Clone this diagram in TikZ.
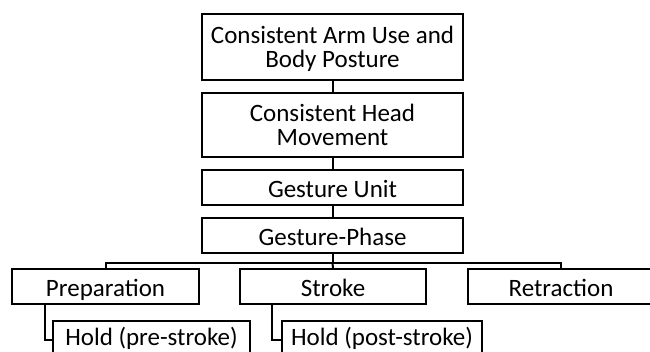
\documentclass[tikz,border=0pt]{standalone}
\usepackage{fontspec}
\setmainfont{Carlito}
\newcommand{\nodepth}[1]{\raisebox{0pt}[\height][0pt]{#1}}
\begin{document}
\begin{tikzpicture}[x=1pt,y=-1pt,
  box/.style={draw,line width=2pt,inner sep=0pt,align=center,
    font=\fontsize{25}{24}\selectfont,minimum height=35pt},
  onebox/.style={box,text height=19pt,text depth=0pt},
  holdbox/.style={box,text height=15pt,text depth=5pt,minimum height=38pt},
  ln/.style={line width=2pt}]
\useasboundingbox (0,0) rectangle (650,351);
\node[box,minimum width=261pt,minimum height=66pt] (arm) at (332.5,47) {Consistent Arm Use and\\\nodepth{Body Posture}};
\node[box,minimum width=261pt,minimum height=64pt] (head) at (332.5,125) {Consistent Head\\Movement};
\node[onebox,minimum width=261pt] (unit) at (332.5,187.5) {Gesture Unit};
\node[onebox,minimum width=261pt] (phase) at (332.5,235.5) {Gesture-Phase};
\node[onebox,minimum width=187pt] (prep) at (105.5,286.5) {Preparation};
\node[onebox,minimum width=186pt] (stroke) at (333,286.5) {Stroke};
\node[onebox,minimum width=186pt] (retr) at (561,286.5) {Retraction};
\node[holdbox,minimum width=197pt] (hpre) at (151.5,340) {Hold (pre-stroke)};
\node[holdbox,minimum width=200pt] (hpost) at (382,340) {Hold (post-stroke)};
\coordinate (bus) at (333,263);
\draw[ln] (arm) -- (head);
\draw[ln] (head) -- (unit);
\draw[ln] (unit) -- (phase);
\draw[ln] (phase.south) -- (phase.south |- bus);
\draw[ln] (prep.north) -- (prep.north |- bus) -- (retr.north |- bus) -- (retr.north);
\draw[ln] (phase.south |- bus) -- (stroke.north);
\draw[ln] ([xshift=-60.5pt]prep.south) |- (hpre.west);
\draw[ln] ([xshift=-61pt]stroke.south) |- (hpost.west);
\end{tikzpicture}
\end{document}
